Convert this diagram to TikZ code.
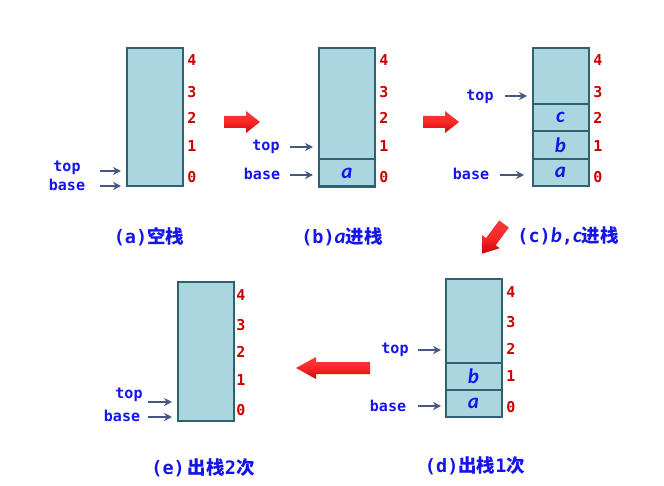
\documentclass[tikz,border=0pt]{standalone}
\usepackage{fontspec}
\setmonofont{DejaVu Sans Mono}
\newfontfamily\cjk{Noto Sans CJK SC}
\newfontfamily\calit{Carlito}
\usetikzlibrary{arrows.meta}
\definecolor{cellfill}{RGB}{170,214,224}
\definecolor{celldraw}{RGB}{47,98,112}
\definecolor{lblblue}{RGB}{20,20,235}
\definecolor{numred}{RGB}{200,0,0}
\definecolor{ptr}{RGB}{70,88,130}
\definecolor{redlight}{RGB}{240,60,60}
\definecolor{reddark}{RGB}{190,10,10}
\tikzset{
  stk/.style={draw=celldraw, fill=cellfill, line width=2pt, minimum width=56pt, minimum height=138pt, inner sep=0pt},
  cell/.style={draw=celldraw, line width=2pt, minimum width=56pt, minimum height=27.6pt, inner sep=0pt, text=lblblue, font=\calit\itshape\bfseries\fontsize{21}{22}\selectfont},
  lbl/.style={text=lblblue, inner sep=0pt, font=\ttfamily\bfseries\fontsize{15}{17}\selectfont},
  num/.style={text=numred, inner sep=0pt, font=\ttfamily\bfseries\fontsize{15}{17}\selectfont},
  captext/.style={text=lblblue, inner sep=0pt, font=\bfseries\fontsize{18.5}{21}\selectfont},
  ptrarrow/.style={draw=ptr, line width=2pt, -{Stealth[length=8pt,width=8pt]}},
  blockarrow/.style={top color=redlight, bottom color=reddark, middle color=red!85!white, draw=none}
}
\newcommand{\cnm}[1]{{\cjk\bfseries #1}}
\newcommand{\ltn}[1]{{\ttfamily\bfseries #1}}
\newcommand{\itl}[1]{{\calit\itshape\bfseries\fontsize{21}{21}\selectfont #1}}
\begin{document}
\begin{tikzpicture}[x=1pt,y=-1pt]
\useasboundingbox (0,0) rectangle (664,486);

% ---------- (a) ----------
\node[stk] (sa) at (155,117.5) {};
\node[num] (a4) at (192,60) {4};
\node[num] (a3) at (192,92) {3};
\node[num] (a2) at (192,118) {2};
\node[num] (a1) at (192,146) {1};
\node[num] (a0) at (192,177) {0};
\node[lbl] (atop) at (67,168) {top};
\node[lbl] (abase) at (67,185) {base};
\coordinate (atops) at (100,171); \coordinate (atope) at (121,171);
\coordinate (abases) at (100,186); \coordinate (abasee) at (121,186);
\draw[ptrarrow] (atops) -- (atope);
\draw[ptrarrow] (abases) -- (abasee);
\node[captext] (capa) at (149,237) {\ltn{(a)}\cnm{空栈}};

% ---------- (b) ----------
\node[stk] (sb) at (347,117.5) {};
\node[cell] (ba) at (347,173) {a};
\node[num] (b4) at (384,60) {4};
\node[num] (b3) at (384,92) {3};
\node[num] (b2) at (384,118) {2};
\node[num] (b1) at (384,146) {1};
\node[num] (b0) at (384,177) {0};
\node[lbl] (btop) at (266,147) {top};
\node[lbl] (bbase) at (262,174) {base};
\coordinate (btops) at (290,147); \coordinate (btope) at (313,147);
\coordinate (bbases) at (290,175); \coordinate (bbasee) at (313,175);
\draw[ptrarrow] (btops) -- (btope);
\draw[ptrarrow] (bbases) -- (bbasee);
\node[captext] (capb) at (342,237) {\ltn{(b)}\itl{a}\cnm{进栈}};

% ---------- (c) ----------
\node[stk] (sc) at (560.5,117) {};
\node[cell] (cc) at (560.5,117.5) {c};
\node[cell] (cb) at (560.5,145) {b};
\node[cell] (ca) at (560.5,172.5) {a};
\node[num] (c4) at (598,60) {4};
\node[num] (c3) at (598,92) {3};
\node[num] (c2) at (598,118) {2};
\node[num] (c1) at (598,146) {1};
\node[num] (c0) at (598,177) {0};
\node[lbl] (ctop) at (480,97) {top};
\node[lbl] (cbase) at (471,174) {base};
\coordinate (ctops) at (505,96); \coordinate (ctope) at (527,96);
\coordinate (cbases) at (500,175); \coordinate (cbasee) at (524,175);
\draw[ptrarrow] (ctops) -- (ctope);
\draw[ptrarrow] (cbases) -- (cbasee);
\node[captext] (capc) at (568,236) {\ltn{(c)}\itl{b}\ltn{,}\itl{c}\cnm{进栈}};

% ---------- (d) ----------
\node[stk] (sd) at (473.5,348) {};
\node[cell] (db) at (473.5,376.5) {b};
\node[cell] (da) at (473.5,403.5) {a};
\node[num] (d4) at (511,292) {4};
\node[num] (d3) at (511,322) {3};
\node[num] (d2) at (511,349) {2};
\node[num] (d1) at (511,376) {1};
\node[num] (d0) at (511,407) {0};
\node[lbl] (dtop) at (395,350) {top};
\node[lbl] (dbase) at (388,406) {base};
\coordinate (dtops) at (418,350); \coordinate (dtope) at (441,350);
\coordinate (dbases) at (418,406); \coordinate (dbasee) at (441,406);
\draw[ptrarrow] (dtops) -- (dtope);
\draw[ptrarrow] (dbases) -- (dbasee);
\node[captext] (capd) at (475,466) {\ltn{(d)}\cnm{出栈}\ltn{1}\cnm{次}};

% ---------- (e) ----------
\node[stk] (se) at (205.5,351.5) {};
\node[num] (e4) at (241,295) {4};
\node[num] (e3) at (241,325) {3};
\node[num] (e2) at (241,352) {2};
\node[num] (e1) at (241,380) {1};
\node[num] (e0) at (241,410) {0};
\node[lbl] (etop) at (129,395) {top};
\node[lbl] (ebase) at (122,416) {base};
\coordinate (etops) at (148,402); \coordinate (etope) at (172,402);
\coordinate (ebases) at (148,417); \coordinate (ebasee) at (172,417);
\draw[ptrarrow] (etops) -- (etope);
\draw[ptrarrow] (ebases) -- (ebasee);
\node[captext] (cape) at (203,468) {\ltn{(e)}\,\cnm{出栈}\ltn{2}\cnm{次}};

% ---------- block arrows ----------
\shade[blockarrow] (224,116) -- (246,116) -- (246,111) -- (260,122) -- (246,133) -- (246,128) -- (224,128) -- cycle;
\shade[blockarrow] (423,116) -- (445,116) -- (445,111) -- (459,122) -- (445,133) -- (445,128) -- (423,128) -- cycle;
\shade[blockarrow] (370,362) -- (316,362) -- (316,357) -- (296,368) -- (316,379) -- (316,374) -- (370,374) -- cycle;
\begin{scope}[shift={(504,224)}, rotate=233.4]
\shade[blockarrow] (0,-6) -- (22,-6) -- (22,-11) -- (37,0) -- (22,11) -- (22,6) -- (0,6) -- cycle;
\end{scope}
\end{tikzpicture}
\end{document}
